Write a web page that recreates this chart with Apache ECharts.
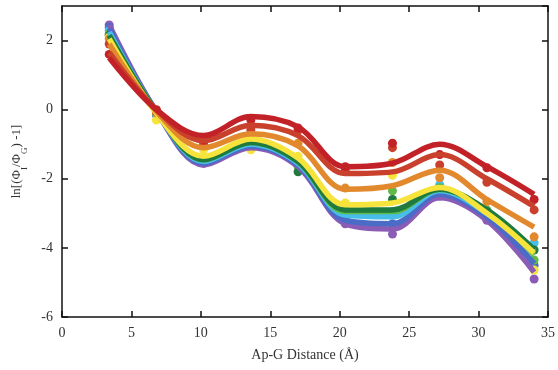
<!DOCTYPE html>
<html>
<head>
<meta charset="utf-8">
<script src="https://cdn.jsdelivr.net/npm/echarts@6/dist/echarts.min.js"></script>
<style>
  html, body { margin: 0; padding: 0; background: #fff; }
  #chart { width: 558px; height: 370px; }
</style>
</head>
<body>
<div id="chart"></div>
<script>
// Ap-G distances (Å)
const distances = [3.4, 6.8, 10.2, 13.6, 17, 20.4, 23.8, 27.2, 30.6, 34];

const seriesNames = ["purple", "blue", "cyan", "green", "darkgreen", "yellow", "orange", "red2", "red"];
const seriesColors = ["#8a5cb6", "#4a6cc6", "#47bde9", "#5fba48", "#1e7a3d", "#f6e43c", "#e2892d", "#c9402c", "#c22227"];

// measured points
const purplePts = [2.45, -0.15, -1.55, -1.1, -1.55, -3.3, -3.6, -2.5, -3.2, -4.9];
const bluePts = [2.38, -0.15, -1.5, -1.05, -1.6, -3.2, -3.3, -2.4, -3.1, -4.5];
const cyanPts = [2.3, -0.15, -1.45, -1.0, -1.6, -3.1, -2.95, -2.17, -3.0, -3.86];
const greenPts = [2.2, -0.1, -1.5, -1.0, -1.65, -2.9, -2.35, -2.26, -2.9, -4.35];
const darkgreenPts = [2.15, -0.1, -1.4, -1.0, -1.8, -2.95, -2.6, -2.3, -2.95, -4.06];
const yellowPts = [2.1, -0.3, -1.16, -1.16, -1.35, -2.7, -1.9, -2.4, -3.04, -4.64];
const orangePts = [2.05, -0.1, -1.0, -0.87, -0.97, -2.27, -1.53, -1.97, -2.66, -3.68];
const red2Pts = [1.9, -0.05, -1.0, -0.58, -0.6, -1.75, -1.1, -1.6, -2.1, -2.9];
const redPts = [1.6, 0.0, -0.87, -0.3, -0.53, -1.65, -0.97, -1.3, -1.68, -2.6];

// fitted curves
const purpleFit = [2.45, -0.05, -1.6, -1.1, -1.65, -3.3, -3.45, -2.55, -3.2, -4.7];
const blueFit = [2.35, -0.05, -1.55, -1.05, -1.6, -3.2, -3.3, -2.45, -3.1, -4.45];
const cyanFit = [2.25, -0.05, -1.5, -1.0, -1.55, -3.05, -3.1, -2.35, -3.0, -4.1];
const greenFit = [2.15, -0.05, -1.45, -0.95, -1.5, -2.95, -2.95, -2.3, -2.95, -4.2];
const darkgreenFit = [2.15, -0.05, -1.45, -0.95, -1.5, -2.9, -2.9, -2.3, -2.9, -4.05];
const yellowFit = [2.05, -0.1, -1.35, -0.85, -1.4, -2.75, -2.7, -2.25, -3.0, -4.15];
const orangeFit = [1.9, -0.05, -1.1, -0.7, -1.05, -2.3, -2.2, -1.75, -2.6, -3.4];
const red2Fit = [1.65, 0.0, -0.9, -0.45, -0.75, -1.85, -1.8, -1.3, -2.0, -2.8];
const redFit = [1.5, 0.0, -0.75, -0.2, -0.5, -1.65, -1.55, -1.0, -1.65, -2.45];

const allPts = [purplePts, bluePts, cyanPts, greenPts, darkgreenPts, yellowPts, orangePts, red2Pts, redPts];
const allFits = [purpleFit, blueFit, cyanFit, greenFit, darkgreenFit, yellowFit, orangeFit, red2Fit, redFit];

const font = "Liberation Serif";
const series = [];
seriesNames.forEach((n, i) => {
  series.push({
    name: n + " fit",
    type: "line",
    smooth: 0.35,
    symbol: "none",
    lineStyle: {color: seriesColors[i], width: 5.5},
    data: distances.map((x, j) => [x, allFits[i][j]])
  });
});
seriesNames.forEach((n, i) => {
  series.push({
    name: n,
    type: "scatter",
    symbolSize: 9,
    itemStyle: {color: seriesColors[i], opacity: 1},
    data: distances.map((x, j) => [x, allPts[i][j]])
  });
});

const axisLine = {onZero: false, lineStyle: {color: "#111", width: 1.5}};
const tick = {inside: true, length: 6, lineStyle: {color: "#111", width: 1.5}};
const chart = echarts.init(document.getElementById("chart"));
chart.setOption({
  animation: false,
  grid: {left: 54, right: 7, top: 6, bottom: 53},
  xAxis: [{
    type: "value", min: 0, max: 35, interval: 5,
    axisLine: axisLine,
    axisTick: tick,
    axisLabel: {fontFamily: font, fontSize: 14, color: "#333", margin: 9},
    splitLine: {show: false},
    name: "Ap-G Distance (Å)", nameLocation: "middle", nameGap: 31,
    nameTextStyle: {fontFamily: font, fontSize: 14, color: "#333"}
  }, {
    type: "value", min: 0, max: 35, interval: 5, position: "top",
    axisLine: axisLine,
    axisTick: tick,
    axisLabel: {show: false}, splitLine: {show: false}
  }],
  yAxis: [{
    type: "value", min: -6, max: 3, interval: 2,
    axisLine: {show: true, onZero: false, lineStyle: {color: "#111", width: 1.5}},
    axisTick: Object.assign({show: true}, tick),
    axisLabel: {fontFamily: font, fontSize: 14, color: "#333", margin: 9, showMaxLabel: false},
    splitLine: {show: false},
    name: "ln[(Φ{sub|I}/Φ{sub|G}) -1]", nameLocation: "middle", nameGap: 36,
    nameTextStyle: {
      fontFamily: font, fontSize: 13, color: "#333", lineHeight: 18, verticalAlign: "bottom",
      rich: {sub: {fontFamily: font, fontSize: 9, color: "#333", lineHeight: 18, verticalAlign: "bottom", padding: [0, 0, -3, 0]}}
    }
  }, {
    type: "value", min: -6, max: 3, interval: 2, position: "right",
    axisLine: {show: true, onZero: false, lineStyle: {color: "#111", width: 1.5}},
    axisTick: Object.assign({show: true}, tick),
    axisLabel: {show: false}, splitLine: {show: false}
  }],
  series: series
});
</script>
</body>
</html>
